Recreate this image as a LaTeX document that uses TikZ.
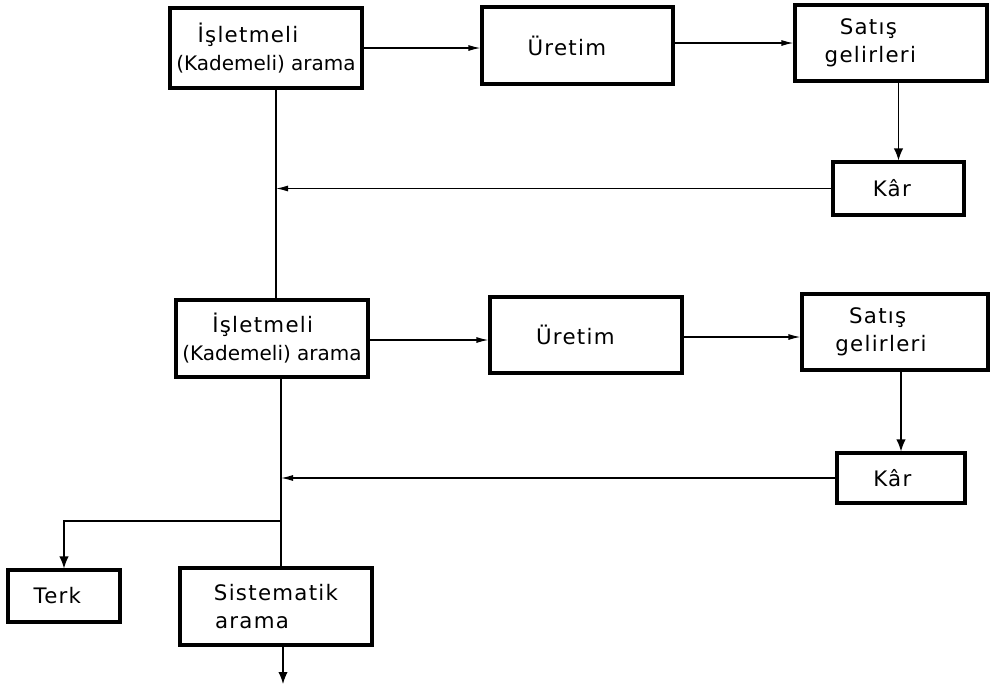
\documentclass[tikz,border=0pt]{standalone}
\usepackage{fontspec}
\setmainfont{DejaVu Sans}[LetterSpace=6]
\newfontfamily\tightfont{DejaVu Sans}
\usetikzlibrary{arrows.meta}
\begin{document}
\begin{tikzpicture}[x=0.75pt,y=-0.75pt,
  box/.style={draw, line width=2.4pt, rectangle, inner sep=0pt, align=center,
    font=\fontsize{16}{21}\selectfont},
  conn/.style={line width=0.9pt},
  harr/.style={conn,-{Latex[length=9pt,width=4.5pt]}},
  varr/.style={conn,-{Latex[length=9pt,width=7pt]}}]
\useasboundingbox (0,0) rectangle (990,686);

% row 1
\node[box, minimum width=144pt, minimum height=60pt] (a1) at (266,48)
  {İşletmeli\hspace*{27pt}\\{\tightfont\fontsize{15}{21}\selectfont (Kademeli) arama}};
\node[box, minimum width=143.25pt, minimum height=57.75pt] (u1) at (577.5,45.5) {Üretim\hspace*{16pt}};
\node[box, minimum width=144pt, minimum height=57pt] (s1) at (891,43) {Satış\hspace*{34pt}\\gelirleri\hspace*{31pt}};
\node[box, minimum width=98.25pt, minimum height=39.75pt] (k1) at (898.5,188.5) {Kâr\hspace*{10pt}};

% row 2
\node[box, minimum width=144pt, minimum height=57.75pt] (a2) at (272,338.5)
  {İşletmeli\hspace*{14pt}\\{\tightfont\fontsize{15}{21}\selectfont (Kademeli) arama}};
\node[box, minimum width=144pt, minimum height=57pt] (u2) at (586,335) {Üretim\hspace*{16pt}};
\node[box, minimum width=139.5pt, minimum height=57pt] (s2) at (895,332) {Satış\hspace*{26pt}\\gelirleri\hspace*{21pt}};
\node[box, minimum width=96pt, minimum height=37.5pt] (k2) at (901,478) {Kâr\hspace*{13pt}};

% bottom
\node[box, minimum width=84pt, minimum height=39pt] (terk) at (64,596) {Terk\hspace*{10pt}};
\node[box, minimum width=144pt, minimum height=57.75pt] (sist) at (276,606.5) {Sistematik\\arama\hspace*{36pt}};

% junction coordinates
\coordinate (j1) at (276,192);
\coordinate (j2) at (281,478);
\coordinate (br) at (281,521);
\coordinate (out) at (283,684);

% connectors row 1
\draw[harr] (a1.east) -- (a1.east -| u1.west);
\draw[harr] (u1.east |- 0,43) -- (s1.west |- 0,43);
\draw[varr] (k1.north |- s1.south) -- (k1.north);
\draw[harr] (k1.west) -- (k1.west -| j1);
\draw[conn] (j1 |- a1.south) -- (j1 |- a2.north);

% connectors row 2
\draw[harr] (a2.east |- 0,340) -- (u2.west |- 0,340);
\draw[harr] (u2.east |- 0,337) -- (s2.west |- 0,337);
\draw[varr] (k2.north |- s2.south) -- (k2.north);
\draw[harr] (k2.west) -- (j2);
\draw[conn] (j2 |- a2.south) -- (j2 |- sist.north);
\draw[varr] (br) -| (terk.north);
\draw[varr] (out |- sist.south) -- (out);
\end{tikzpicture}
\end{document}
